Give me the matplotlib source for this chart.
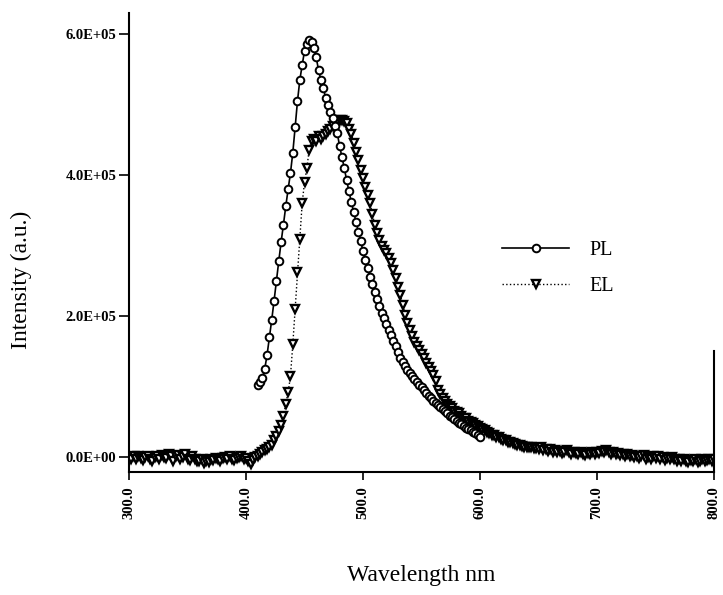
import numpy as np
import matplotlib.pyplot as plt

# PL spectrum, 410-600 nm every 2 nm (intensity in units of 1e3)
pl_nm = np.arange(410, 601, 2)
pl_k = [103, 106, 112, 125, 145, 170, 195, 222, 250, 278,
        305, 330, 356, 380, 403, 432, 468, 505, 535, 556,
        576, 586, 591, 589, 580, 567, 549, 535, 524, 510,
        500, 490, 481, 470, 460, 441, 426, 410, 393, 377,
        362, 348, 334, 320, 306, 293, 280, 268, 256, 245,
        234, 224, 214, 205, 197, 189, 181, 173, 165, 157,
        149, 141, 135, 129, 124, 119, 115, 111, 107, 103,
        99, 95, 91, 87, 84, 80, 77, 74, 71, 68,
        65, 62, 59, 57, 54, 52, 49, 47, 44, 42,
        40, 38, 36, 34, 32, 29]

# EL spectrum, 300-800 nm every 2 nm (intensity in units of 1e3)
el_nm = np.arange(300, 801, 2)
el_k = [0, -2, 1, -3, 2, -1, -4, 0, 2, -2,
        -5, 0, 1, -3, 3, 0, -1, 4, 2, -6,
        1, 3, -2, 0, 4, -2, -4, 1, -3, -5,
        -6, -3, -8, -5, -7, -3, -4, -1, -2, -5,
        -1, 0, -3, 1, -2, -4, -1, 0, 2, -3,
        -1, -6, -9, -4, 0, 2, 5, 8, 10, 12,
        14, 18, 24, 30, 37, 45, 58, 76, 92, 115,
        160, 210, 262, 310, 360, 390, 410, 436, 449, 452,
        449, 455, 451, 455, 458, 462, 466, 470, 474, 477,
        478, 478, 477, 474, 466, 459, 446, 433, 421, 408,
        396, 383, 372, 360, 345, 330, 318, 308, 300, 294,
        289, 283, 276, 266, 254, 242, 230, 216, 202, 190,
        180, 172, 164, 158, 152, 146, 140, 134, 128, 122,
        116, 108, 96, 90, 84, 79, 76, 72, 70, 66,
        64, 62, 58, 56, 56, 52, 50, 48, 46, 44,
        42, 40, 38, 36, 34, 32, 31, 29, 28, 26,
        25, 24, 22, 21, 20, 19, 18, 17, 16, 15,
        15, 14, 14, 13, 13, 12, 14, 10, 11, 9,
        12, 8, 10, 7, 9, 6, 8, 10, 7, 5,
        8, 6, 4, 7, 5, 3, 6, 4, 7, 5,
        8, 6, 9, 7, 10, 8, 5, 7, 4, 6,
        3, 5, 2, 4, 1, 3, 0, 2, -1, 1,
        3, -2, 0, -3, 1, -1, 2, -2, 0, -4,
        -1, -3, 0, -2, -5, -2, -6, -3, -5, -7,
        -4, -6, -3, -7, -5, -2, -6, -4, -3, -5,
        -2]

x_ticks = [300, 400, 500, 600, 700, 800]
x_tick_labels = ["300.0", "400.0", "500.0", "600.0", "700.0", "800.0"]
y_ticks = [0, 2e5, 4e5, 6e5]
y_tick_labels = ["0.0E+00", "2.0E+05", "4.0E+05", "6.0E+05"]

plt.rcParams['font.family'] = ['Liberation Serif', 'DejaVu Serif']

W, H = 723, 595
fig = plt.figure(figsize=(W / 100, H / 100), dpi=100)
ax = fig.add_axes([129 / W, 1 - 472 / H, (714 - 129) / W, (472 - 13) / H])

el_line, = ax.plot(el_nm, np.array(el_k) * 1e3, linestyle=':', color='black', lw=1.0,
                   marker='v', ms=5.5, mfc='white', mec='black', mew=1.7, label='EL')
pl_line, = ax.plot(pl_nm, np.array(pl_k) * 1e3, linestyle='-', color='black', lw=1.2,
                   marker='o', ms=5.5, mfc='white', mec='black', mew=1.4, label='PL')

ax.set_xlim(300, 800)
ax.set_ylim(-21000, 630000)
ax.set_xticks(x_ticks)
ax.set_xticklabels(x_tick_labels, rotation=90, fontsize=10.5, fontweight='bold')
ax.set_yticks(y_ticks)
ax.set_yticklabels(y_tick_labels, fontsize=10.5, fontweight='bold')
ax.tick_params(axis='x', direction='out', length=6, width=1.2, pad=4)
ax.tick_params(axis='y', direction='out', length=7, width=1.2, pad=2)

ax.spines['top'].set_visible(False)
ax.spines['right'].set_bounds(-21000, 150000)
for s in ['left', 'bottom', 'right']:
    ax.spines[s].set_linewidth(1.5)

ax.legend([pl_line, el_line], ['PL', 'EL'], loc='center left',
          bbox_to_anchor=(0.6376, 0.444), frameon=False, fontsize=14.5,
          handlelength=3.35, handletextpad=1.0, labelspacing=0.85,
          borderpad=0, borderaxespad=0, markerscale=1.0)

fig.text(21 / W, 1 - 280 / H, 'Intensity (a.u.)', rotation=90, ha='center',
         va='center', fontsize=17)
fig.text(421 / W, 1 - 575 / H, 'Wavelength nm', ha='center', va='center',
         fontsize=17)

fig.savefig('out.png', dpi=100)
